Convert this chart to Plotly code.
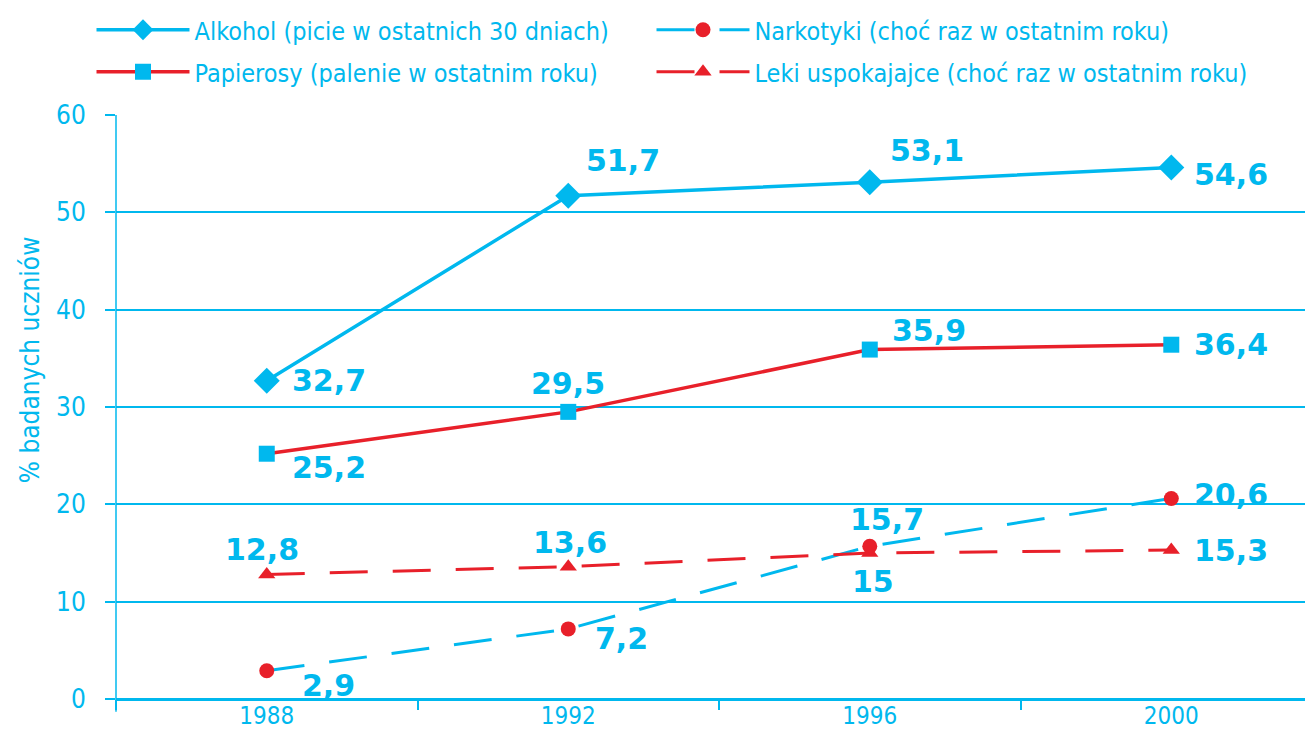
import plotly.graph_objects as go

years = ["1988", "1992", "1996", "2000"]
alkohol = [32.7, 51.7, 53.1, 54.6]
papierosy = [25.2, 29.5, 35.9, 36.4]
narkotyki = [2.9, 7.2, 15.7, 20.6]
leki = [12.8, 13.6, 15, 15.3]

names = [
    "Alkohol (picie w ostatnich 30 dniach)",
    "Narkotyki (choć raz w ostatnim roku)",
    "Papierosy (palenie w ostatnim roku)",
    "Leki uspokajajce (choć raz w ostatnim roku)",
]
y_title = "% badanych uczniów"
y_ticks = [0, 10, 20, 30, 40, 50, 60]

CYAN = "#00B8EE"
RED = "#E8202A"
FONT = "DejaVu Sans Condensed, DejaVu Sans, sans-serif"
BOLD = "DejaVu Sans, sans-serif"
DASH = "38px,25px"

fig = go.Figure()

fig.add_trace(go.Scatter(
    x=years, y=alkohol, name=names[0], mode="lines+markers", legend="legend",
    line=dict(color=CYAN, width=3.5),
    marker=dict(symbol="diamond", size=20, color=CYAN),
))
fig.add_trace(go.Scatter(
    x=years, y=narkotyki, name=names[1], mode="lines+markers", legend="legend2",
    line=dict(color=CYAN, width=3, dash=DASH),
    marker=dict(symbol="circle", size=15, color=RED),
))
fig.add_trace(go.Scatter(
    x=years, y=papierosy, name=names[2], mode="lines+markers", legend="legend3",
    line=dict(color=RED, width=3.5),
    marker=dict(symbol="square", size=16, color=CYAN),
))
fig.add_trace(go.Scatter(
    x=years, y=leki, name=names[3], mode="lines+markers", legend="legend4",
    line=dict(color=RED, width=3, dash=DASH),
    marker=dict(symbol="triangle-up", size=15, color=RED),
))

# label offsets (pixels) per series
offsets = {
    "alk": [(62, 0), (55, 35), (57, 32), (60, -7)],
    "pap": [(62, -14), (0, 28), (59, 19), (60, 0)],
    "nar": [(62, -15), (53, -10), (17, 27), (60, 4)],
    "lek": [(-5, 25), (2, 24), (3, -28), (60, 0)],
}
series = {"alk": alkohol, "pap": papierosy, "nar": narkotyki, "lek": leki}


def fmt(v):
    return ("%g" % v).replace(".", ",")


for key, vals in series.items():
    for i, v in enumerate(vals):
        dx, dy = offsets[key][i]
        fig.add_annotation(
            x=i, y=v, xref="x", yref="y", text="<b>" + fmt(v) + "</b>",
            showarrow=False, xshift=dx, yshift=dy,
            font=dict(family=BOLD, size=30, color=CYAN),
        )

# y-axis title (placed above centre, as in the original)
fig.add_annotation(
    xref="paper", yref="paper", x=0, y=0.58, xshift=-86, textangle=-90,
    xanchor="center", yanchor="middle",
    text=y_title, showarrow=False,
    font=dict(family=FONT, size=26, color=CYAN),
)

W, H = 1305, 730


def legend_at(xpx, ypx):
    return dict(
        orientation="h", xanchor="left", yanchor="middle",
        xref="container", yref="container",
        x=xpx / W, y=1 - ypx / H,
        itemwidth=93,
        font=dict(family=FONT, size=25, color=CYAN),
        bgcolor="rgba(0,0,0,0)",
    )


# the page has an 8px body margin, so the figure is 8px smaller
fig.update_layout(
    width=W, height=H,
    margin=dict(l=108, r=0, t=107, b=39, autoexpand=False),
    paper_bgcolor="white", plot_bgcolor="white",
    font=dict(family=FONT, color=CYAN, size=24),
    showlegend=True,
    legend=legend_at(83.5, 22),
    legend2=legend_at(643.5, 22),
    legend3=legend_at(83.5, 64),
    legend4=legend_at(643.5, 64),
    xaxis=dict(
        type="category", range=[-0.5, 3.47],
        showgrid=False, showline=False,
        ticks="outside", tickson="boundaries", ticklen=10,
        tickcolor=CYAN, tickwidth=1.5,
        tickfont=dict(family=FONT, size=24, color=CYAN),
        zeroline=False,
    ),
    yaxis=dict(
        range=[0, 60], tickvals=y_ticks,
        showgrid=True, gridcolor=CYAN, gridwidth=1.5,
        showline=False, zeroline=True, zerolinecolor=CYAN, zerolinewidth=2.5,
        ticks="outside", ticklen=10, tickcolor=CYAN, tickwidth=1.5,
        ticklabelstandoff=14,
        tickfont=dict(family=FONT, size=26, color=CYAN),
    ),
)

# vertical y-axis line at left boundary
fig.add_shape(type="line", xref="paper", yref="paper", x0=0, x1=0, y0=-0.022, y1=1,
              line=dict(color=CYAN, width=1.5))

fig.write_html("out.html")
